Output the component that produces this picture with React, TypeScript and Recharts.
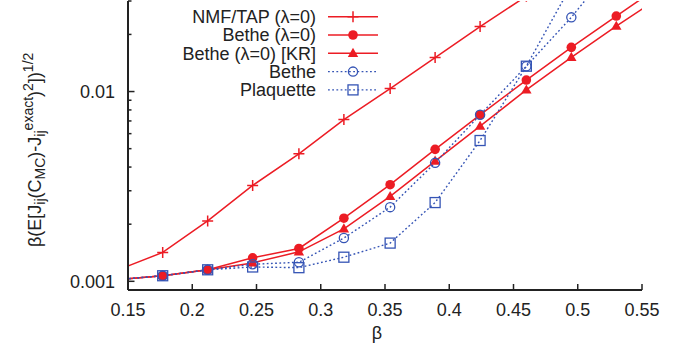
import React from "react";
import { LineChart, Line, XAxis, YAxis } from "recharts";

// beta values (the first and last lie just outside the visible x range)
const beta = [0.141, 0.177, 0.212, 0.247, 0.283, 0.318, 0.354, 0.389, 0.424, 0.46, 0.495, 0.53, 0.566];

const nmfTap = [0.00114, 0.00142, 0.00208, 0.0032, 0.0047, 0.00712, 0.01037, 0.0151, 0.022, 0.0318, null, null, null];
const betheL0 = [0.00102, 0.00107, 0.00115, 0.00133, 0.00149, 0.00215, 0.00323, 0.00496, 0.00754, 0.0115, 0.0171, 0.025, 0.0367];
const betheKR = [0.00102, 0.00107, 0.00115, 0.00125, 0.00143, 0.00189, 0.0028, 0.0043, 0.00657, 0.0102, 0.01515, 0.0221, 0.0321];
const bethe = [0.00102, 0.00107, 0.00115, 0.00123, 0.00126, 0.00169, 0.00246, 0.00421, 0.00754, 0.0136, 0.0246, 0.048, null];
const plaquette = [0.00102, 0.00107, 0.00115, 0.00119, 0.00118, 0.00134, 0.00159, 0.0026, 0.00552, 0.0136, 0.0363, null, null];

const xTicks = [0.15, 0.2, 0.25, 0.3, 0.35, 0.4, 0.45, 0.5, 0.55];
const yTicks = [0.001, 0.002, 0.003, 0.004, 0.005, 0.006, 0.007, 0.008, 0.009, 0.01, 0.02, 0.03];

const RED = "#ec1c24";
const BLUE = "#3554b5";
const INK = "#222";
const FONT = "'Liberation Sans', Arial, Helvetica, sans-serif";

const series = [
  { key: "nmf", name: "NMF/TAP (\u03bb=0)", color: RED, shape: "plus", dotted: false },
  { key: "betheL0", name: "Bethe (\u03bb=0)", color: RED, shape: "circle", dotted: false },
  { key: "betheKR", name: "Bethe (\u03bb=0) [KR]", color: RED, shape: "triangle", dotted: false },
  { key: "bethe", name: "Bethe", color: BLUE, shape: "ocircle", dotted: true },
  { key: "plaquette", name: "Plaquette", color: BLUE, shape: "square", dotted: true },
];

const data = beta.map((b, i) => ({
  beta: b,
  nmf: nmfTap[i],
  betheL0: betheL0[i],
  betheKR: betheKR[i],
  bethe: bethe[i],
  plaquette: plaquette[i],
}));

function Marker({ shape, cx, cy, color }: any) {
  switch (shape) {
    case "plus":
      return (
        <path
          d={`M${cx - 5.5},${cy}H${cx + 5.5}M${cx},${cy - 5.5}V${cy + 5.5}`}
          stroke={color}
          strokeWidth={1.5}
          fill="none"
        />
      );
    case "circle":
      return <circle cx={cx} cy={cy} r={4.8} fill={color} />;
    case "triangle":
      return <path d={`M${cx},${cy - 5.5}L${cx + 5.2},${cy + 3.6}L${cx - 5.2},${cy + 3.6}Z`} fill={color} />;
    case "ocircle":
      return <circle cx={cx} cy={cy} r={4.6} fill="none" stroke={color} strokeWidth={1.3} />;
    default:
      return <rect x={cx - 5} y={cy - 5} width={10} height={10} fill="none" stroke={color} strokeWidth={1.3} />;
  }
}

const makeDot = (shape: string, color: string) => (props: any) => {
  const { cx, cy, index, value } = props;
  if (cx == null || cy == null || value == null) return <g key={`d-${shape}-${index}`} />;
  return (
    <g key={`d-${shape}-${index}`}>
      <Marker shape={shape} cx={cx} cy={cy} color={color} />
    </g>
  );
};

const isMajor = (v: number) => Math.abs(Math.log10(v) - Math.round(Math.log10(v))) < 1e-6;

const BottomTick = ({ x, y, payload }: any) => (
  <g>
    <line x1={x} x2={x} y1={y} y2={y - 6} stroke={INK} strokeWidth={1.5} />
    <text x={x} y={y + 26} textAnchor="middle" fontSize={18} fontFamily={FONT} fill={INK}>
      {payload.value}
    </text>
  </g>
);

const TopTick = ({ x, y }: any) => <line x1={x} x2={x} y1={y} y2={y + 6} stroke={INK} strokeWidth={1.5} />;

const LeftTick = ({ x, y, payload }: any) => {
  const major = isMajor(payload.value);
  return (
    <g>
      <line x1={x} x2={x + (major ? 6.5 : 3.5)} y1={y} y2={y} stroke={INK} strokeWidth={1.5} />
      {major && (
        <text x={x - 13} y={y + 6.5} textAnchor="end" fontSize={18} fontFamily={FONT} fill={INK}>
          {String(payload.value)}
        </text>
      )}
    </g>
  );
};

const RightTick = ({ x, y, payload }: any) => {
  const major = isMajor(payload.value);
  return <line x1={x} x2={x - (major ? 6.5 : 3.5)} y1={y} y2={y} stroke={INK} strokeWidth={1.5} />;
};

const axisLine = { stroke: INK, strokeWidth: 2 };

export default function App() {
  const legendTop = 16.7;
  const legendStep = 18.3;
  return (
    <div style={{ position: "absolute", left: 0, top: 0, width: 677, height: 355, background: "#fff" }}>
      <LineChart width={677} height={355} data={data} margin={{ top: 1, right: 35, bottom: 5, left: 8 }}>
        <XAxis
          dataKey="beta"
          type="number"
          domain={[0.15, 0.55]}
          ticks={xTicks}
          interval={0}
          allowDataOverflow
          height={60}
          tickSize={0}
          tickMargin={0}
          tickLine={false}
          axisLine={axisLine}
          tick={(p: any) => <BottomTick {...p} />}
        />
        <XAxis
          xAxisId="top"
          dataKey="beta"
          type="number"
          orientation="top"
          domain={[0.15, 0.55]}
          ticks={xTicks}
          interval={0}
          allowDataOverflow
          height={0}
          tickSize={0}
          tickMargin={0}
          tickLine={false}
          axisLine={axisLine}
          tick={(p: any) => <TopTick {...p} />}
        />
        <YAxis
          scale="log"
          type="number"
          domain={[0.0009, 0.03]}
          ticks={yTicks}
          interval={0}
          allowDataOverflow
          width={120}
          tickSize={0}
          tickMargin={0}
          tickLine={false}
          axisLine={axisLine}
          tick={(p: any) => <LeftTick {...p} />}
        />
        <YAxis
          yAxisId="right"
          orientation="right"
          scale="log"
          type="number"
          domain={[0.0009, 0.03]}
          ticks={yTicks}
          interval={0}
          allowDataOverflow
          width={0}
          tickSize={0}
          tickMargin={0}
          tickLine={false}
          axisLine={axisLine}
          tick={(p: any) => <RightTick {...p} />}
        />
        {series.map((s) => (
          <Line
            key={s.key}
            dataKey={s.key}
            name={s.name}
            type="linear"
            stroke={s.color}
            strokeWidth={s.dotted ? 1.4 : 1.5}
            strokeDasharray={s.dotted ? "1.8 2.4" : undefined}
            dot={makeDot(s.shape, s.color)}
            activeDot={false}
            isAnimationActive={false}
          />
        ))}
      </LineChart>

      <svg
        width={677}
        height={355}
        style={{ position: "absolute", left: 0, top: 0, pointerEvents: "none" }}
        fontFamily={FONT}
      >
        {series.map((s, i) => {
          const cy = legendTop + i * legendStep;
          return (
            <g key={s.key}>
              <text x={316} y={cy + 6.3} textAnchor="end" fontSize={18} fill={INK}>
                {s.name}
              </text>
              <line
                x1={328}
                x2={378}
                y1={cy}
                y2={cy}
                stroke={s.color}
                strokeWidth={s.dotted ? 1.4 : 1.5}
                strokeDasharray={s.dotted ? "1.8 2.4" : undefined}
              />
              <Marker shape={s.shape} cx={353} cy={cy} color={s.color} />
            </g>
          );
        })}

        <text x={377} y={339} textAnchor="middle" fontSize={18} fill={INK}>
          {"\u03b2"}
        </text>

        <text transform="translate(41,247) rotate(-90)" fontSize={18} fill={INK}>
          <tspan>{"\u03b2(E[J"}</tspan>
          <tspan fontSize={14} dy={4}>ij</tspan>
          <tspan dy={-4}>(C</tspan>
          <tspan fontSize={14} dy={4}>MC</tspan>
          <tspan dy={-4}>)-J</tspan>
          <tspan fontSize={14} dy={4}>ij</tspan>
          <tspan fontSize={14} dy={-12}>exact</tspan>
          <tspan dy={8}>)</tspan>
          <tspan fontSize={14} dy={-8}>2</tspan>
          <tspan dy={8}>])</tspan>
          <tspan fontSize={14} dy={-8}>1/2</tspan>
        </text>
      </svg>
    </div>
  );
}
